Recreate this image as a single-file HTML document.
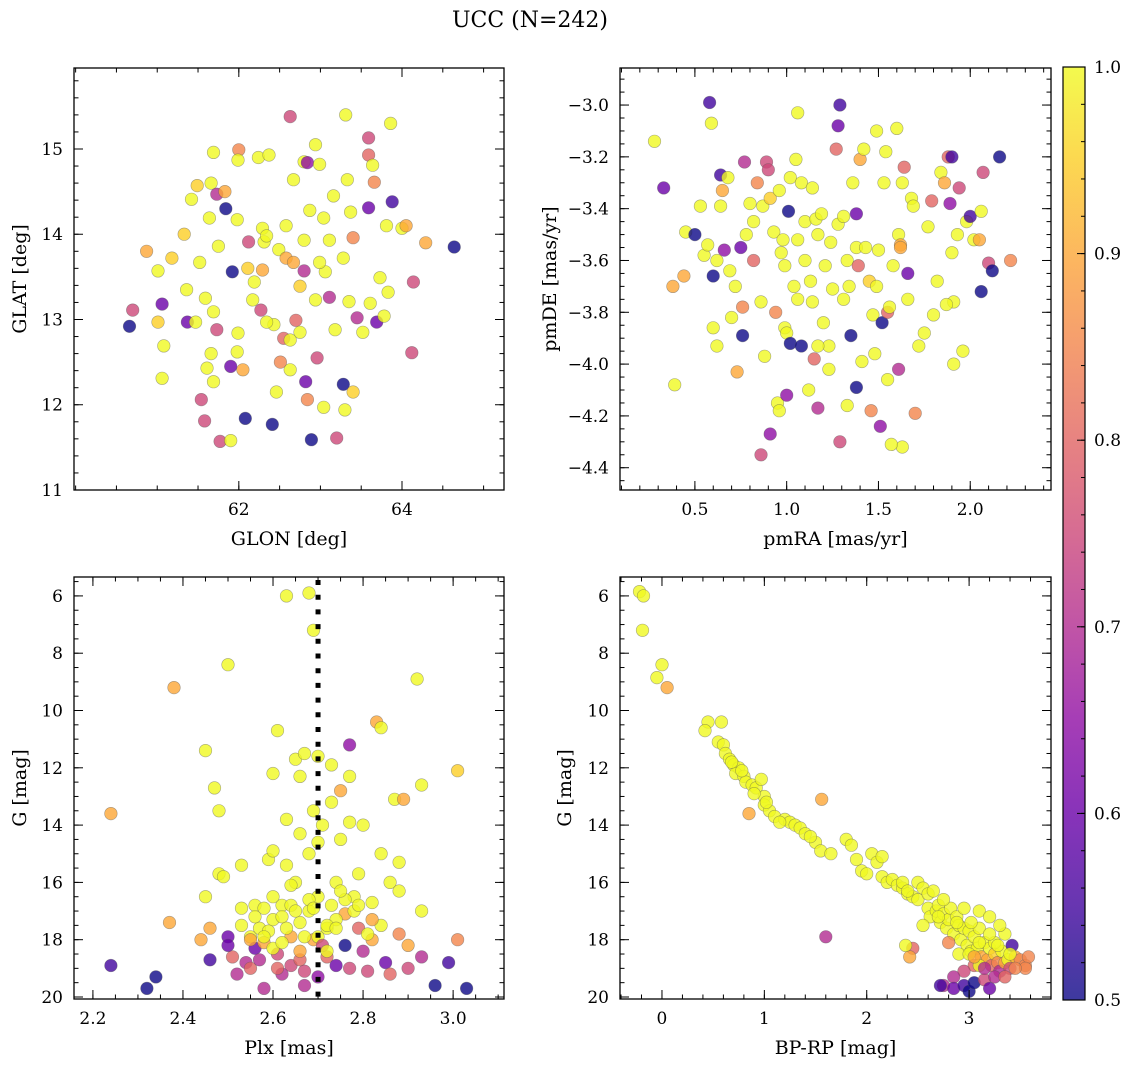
<!DOCTYPE html>
<html><head><meta charset="utf-8">
<style>
html,body{margin:0;padding:0;background:#fff;}
svg{display:block;font-family:"DejaVu Serif","Liberation Serif",serif;}
</style></head>
<body>
<svg id="fig" width="1136" height="1067" viewBox="0 0 1136 1067" xmlns="http://www.w3.org/2000/svg">
<rect x="0" y="0" width="1136" height="1067" fill="#fff"/>
<text x="530" y="27" font-size="22" text-anchor="middle">UCC (N=242)</text>
<defs>
<linearGradient id="cbgrad" x1="0" y1="1" x2="0" y2="0">
<stop offset="0" stop-color="#0d0887"/><stop offset="0.1" stop-color="#41049d"/><stop offset="0.2" stop-color="#6a00a8"/><stop offset="0.3" stop-color="#8f0da4"/><stop offset="0.4" stop-color="#b12a90"/><stop offset="0.5" stop-color="#cc4778"/><stop offset="0.6" stop-color="#e16462"/><stop offset="0.7" stop-color="#f2844b"/><stop offset="0.8" stop-color="#fca636"/><stop offset="0.9" stop-color="#fcce25"/><stop offset="1" stop-color="#f0f921"/>
</linearGradient>
</defs>
<g id="layer"></g>
</svg>
<script>
// ---- Panel 1: GLON vs GLAT ----
const p1_glon=[60.66,60.7,60.87,61.01,61.06,61.01,61.06,61.08,61.18,61.33,61.36,61.37,61.49,61.47,61.54,61.58,61.64,61.59,61.66,61.69,61.66,61.73,61.77,61.9,61.83,61.75,61.98,61.84,61.92,61.99,62,61.99,62.11,62.12,62.05,61.9,62.08,62.41,62.24,62.37,62.29,62.31,62.29,62.43,62.55,62.63,62.67,62.63,62.51,62.46,62.8,62.84,62.94,62.87,62.8,62.75,62.8,62.82,62.84,62.89,62.99,63.04,62.96,63.06,63.11,63.16,63.2,63.11,63.28,63.3,63.31,63.33,63.37,63.35,63.4,63.4,63.45,63.59,63.59,63.64,63.61,63.66,63.69,63.73,63.59,63.81,63.83,63.86,63.88,63.78,64.0,64.05,64.12,64.14,64.29,64.64,62.34,62.49,62.58,62.67,62.19,62.17,62.27,62.34,62.7,62.75,62.63,61.42,61.52,61.69,61.73,61.61,61.69,62.99,63.28,63.04,63.18,63.52,62.94,61.98,62.58];
const p1_glat=[12.92,13.11,13.8,13.57,13.18,12.97,12.31,12.69,13.72,14.0,13.35,12.97,14.57,12.97,12.06,11.81,14.19,13.25,12.6,14.96,14.6,14.47,11.57,11.58,14.5,13.86,12.62,14.3,13.56,12.84,14.99,14.87,13.6,13.91,12.41,12.45,11.84,11.77,14.9,14.93,14.07,13.91,13.58,12.94,12.78,15.38,14.64,12.41,12.5,12.15,14.85,14.84,15.05,14.28,13.93,13.39,13.57,12.27,12.06,11.59,14.82,11.97,12.55,13.56,13.93,14.45,11.61,13.26,12.24,11.94,15.4,14.64,14.26,13.21,12.15,13.96,13.02,15.13,14.93,14.81,13.19,14.61,12.97,13.49,14.31,14.1,13.32,15.3,14.38,13.04,14.07,14.1,12.61,13.44,13.9,13.85,13.98,13.82,13.72,13.67,13.44,13.23,13.11,12.97,12.99,12.85,12.76,14.41,13.67,13.09,12.88,12.43,12.27,13.67,13.72,14.19,12.88,12.85,13.23,14.17,14.1];
const p1_prob=[.5,.75,.9,1,.6,.95,1,1,.95,.95,1,.6,.95,1,.75,.75,1,1,1,1,1,.7,.75,1,.9,1,1,.5,.5,1,.85,1,.95,.75,.9,.6,.5,.5,1,1,1,1,.9,1,.8,.75,1,1,.85,1,1,.65,1,1,1,.95,.7,.6,.85,.5,1,1,.75,1,1,1,.75,.7,.5,1,1,1,1,1,.95,.85,.7,.75,.8,1,1,.85,.6,1,.6,1,1,1,.55,1,1,.9,.75,.75,.9,.5,1,1,.9,.9,1,1,.75,1,.8,1,1,1,1,1,.75,1,1,1,1,1,1,1,1,1,1];
// ---- Panel 2: pmRA vs pmDE ----
const p2_pmra=[0.28,0.33,0.58,0.59,0.39,0.38,0.44,0.45,0.5,0.53,0.55,0.57,0.6,0.6,0.62,0.62,0.64,0.65,0.64,0.66,0.68,0.69,0.7,0.73,0.75,0.76,0.77,0.76,0.78,0.8,0.82,0.82,0.84,0.86,0.88,0.87,0.86,0.91,0.89,0.9,0.91,0.93,0.94,0.95,0.96,0.97,0.98,0.99,0.99,1.01,1.0,1.0,1.02,1.02,1.04,1.05,1.06,1.06,1.08,1.08,1.1,1.1,1.12,1.13,1.14,1.15,1.16,1.17,1.17,1.19,1.2,1.21,1.23,1.23,1.24,1.25,1.27,1.28,1.28,1.29,1.29,1.31,1.31,1.33,1.33,1.34,1.35,1.36,1.38,1.38,1.39,1.38,1.4,1.41,1.42,1.43,1.45,1.46,1.47,1.48,1.49,1.49,1.5,1.51,1.52,1.53,1.54,1.55,1.55,1.56,1.58,1.6,1.61,1.62,1.62,1.63,1.64,1.66,1.66,1.68,1.69,1.7,1.61,1.63,1.57,1.72,1.75,1.77,1.79,1.8,1.82,1.84,1.86,1.88,1.89,1.9,1.9,1.91,1.91,1.93,1.94,1.96,1.98,2.0,2.02,2.05,2.06,2.06,2.07,2.1,2.12,2.16,2.22,1.87,1.17,0.72,0.96,1.06,1.14];
const p2_pmde=[-3.14,-3.32,-2.99,-3.07,-4.08,-3.7,-3.66,-3.49,-3.5,-3.39,-3.58,-3.54,-3.66,-3.86,-3.6,-3.93,-3.27,-3.33,-3.39,-3.56,-3.28,-3.64,-3.82,-4.03,-3.55,-3.78,-3.22,-3.89,-3.5,-3.38,-3.45,-3.6,-3.3,-3.76,-3.97,-3.39,-4.35,-4.27,-3.22,-3.25,-3.36,-3.49,-3.8,-4.15,-4.18,-3.57,-3.52,-3.62,-3.86,-3.41,-3.88,-4.12,-3.92,-3.28,-3.7,-3.21,-3.52,-3.75,-3.3,-3.93,-3.45,-3.6,-4.1,-3.68,-3.76,-3.98,-3.44,-3.5,-4.17,-3.42,-3.84,-3.62,-3.93,-4.02,-3.53,-3.71,-3.17,-3.46,-3.08,-3.0,-4.3,-3.75,-3.43,-4.16,-3.6,-3.7,-3.89,-3.3,-3.42,-3.55,-3.62,-4.09,-3.21,-3.99,-3.17,-3.55,-3.68,-4.18,-3.81,-3.96,-3.7,-3.1,-3.56,-4.24,-3.84,-3.3,-3.18,-3.8,-4.06,-3.78,-3.62,-3.09,-3.5,-3.54,-3.55,-3.3,-3.24,-3.75,-3.65,-3.36,-3.39,-4.19,-4.02,-4.32,-4.31,-3.93,-3.88,-3.47,-3.37,-3.81,-3.68,-3.26,-3.3,-3.2,-3.38,-3.2,-3.57,-3.76,-4.0,-3.5,-3.32,-3.95,-3.45,-3.43,-3.52,-3.52,-3.41,-3.72,-3.26,-3.61,-3.64,-3.2,-3.6,-3.77,-3.93,-3.7,-3.33,-3.03,-3.32];
const p2_prob=[1,.6,.55,1,1,.9,.9,1,.5,1,1,1,.5,1,1,1,.55,.9,1,.65,1,1,1,.9,.6,.85,.7,.5,1,1,1,.8,.85,1,1,1,.75,.65,.75,.75,.95,1,.85,1,1,1,1,1,1,.5,1,.65,.5,1,1,1,1,1,1,.5,1,1,1,1,1,.8,1,1,.7,1,1,1,1,1,1,1,.8,1,.6,.55,.75,1,1,1,1,1,.5,1,.6,1,.8,.5,.9,1,1,1,.95,.85,1,1,1,1,1,.65,.5,1,1,.8,1,1,1,1,1,.9,.9,1,.8,1,.6,1,1,.85,.7,1,1,1,1,1,.8,1,1,1,.9,.8,.65,.55,1,1,1,1,.75,1,1,.55,1,.9,1,.5,.75,.75,.5,.5,.85,1,1,1,1,1,1];
// ---- Panel 3: Plx vs G ----
const p3_plx=[2.24,2.24,2.32,2.34,2.37,2.38,2.44,2.45,2.45,2.46,2.46,2.47,2.48,2.48,2.49,2.5,2.5,2.51,2.52,2.53,2.53,2.54,2.55,2.55,2.56,2.56,2.57,2.58,2.58,2.59,2.6,2.6,2.6,2.61,2.61,2.62,2.62,2.63,2.63,2.64,2.64,2.65,2.65,2.66,2.66,2.66,2.67,2.67,2.68,2.68,2.68,2.69,2.69,2.69,2.7,2.7,2.7,2.71,2.72,2.72,2.73,2.73,2.74,2.74,2.75,2.75,2.76,2.76,2.77,2.77,2.77,2.78,2.79,2.79,2.8,2.8,2.81,2.82,2.82,2.83,2.84,2.84,2.84,2.85,2.86,2.86,2.87,2.88,2.88,2.88,2.89,2.9,2.9,2.92,2.93,2.93,2.93,2.96,2.99,3.01,3.01,3.03,2.58,2.62,2.64,2.66,2.6,2.56,2.73,2.76,2.64,2.7,2.78,2.53,2.5,2.57,2.71,2.66,2.61,2.67,2.59,2.74,2.82,2.72,2.68,2.63,2.7,2.77,2.55,2.6,2.63,2.67,2.69,2.72,2.75,2.79,2.81,2.65,2.62,2.58,2.74];
const p3_g=[13.6,18.9,19.7,19.3,17.4,9.2,18.0,11.4,16.5,17.6,18.7,12.7,13.5,15.7,15.8,8.4,17.9,18.6,19.2,15.4,17.5,18.8,17.9,19.0,18.3,16.8,17.6,19.7,18.1,15.2,12.2,14.9,17.3,10.7,18.5,16.8,19.2,6.0,13.8,17.9,18.9,11.7,16.0,12.3,14.3,18.7,11.5,19.6,5.9,15.0,17.0,7.2,13.5,18.0,11.6,16.5,19.3,14.0,17.6,18.6,13.2,11.9,16.0,18.9,12.8,14.5,17.1,18.2,11.2,12.3,19.0,16.5,17.6,15.7,18.4,14.0,19.1,16.7,18.0,10.4,10.6,15.0,17.5,18.8,16.0,19.2,13.1,15.3,16.3,17.8,13.1,18.2,19.0,8.9,12.6,17.0,18.6,19.6,18.8,12.1,18.0,19.7,16.9,17.2,16.8,17.4,18.3,17.2,16.8,16.6,16.1,17.9,17.0,16.9,18.2,18.7,18.2,18.4,19.0,19.1,17.7,17.3,17.3,18.4,16.6,15.4,14.6,13.9,18.0,16.5,17.6,17.9,16.9,17.5,16.3,16.8,17.8,17.0,18.1,17.9,17.6];
const p3_prob=[.9,.55,.5,.5,.9,.9,.9,1,1,.9,.55,1,1,1,1,1,.6,.8,.7,1,1,.7,1,.8,.6,1,1,.7,.9,1,1,1,1,1,.75,1,.7,1,1,.9,.75,1,1,1,1,.8,1,.7,1,1,1,1,1,.9,1,1,.65,1,1,.8,1,1,1,.6,.9,1,.9,.5,.65,1,.75,1,.8,1,.7,1,.75,1,.9,.9,1,1,1,.6,1,.8,1,1,1,.85,.9,.9,.75,1,1,1,.7,.5,.55,.95,.85,.5,1,1,1,1,1,1,1,1,1,1,1,1,.6,.7,.75,.9,.8,.75,1,1,.9,1,1,1,1,1,.9,1,1,1,1,1,1,1,1,1,1,1,1];
// ---- Panel 4: BP-RP vs G ----
const p4_bprp=[-0.22,-0.18,-0.19,-0.05,0.0,0.05,0.45,0.42,0.58,0.55,0.6,0.62,0.66,0.7,0.75,0.72,0.8,0.82,0.88,0.92,0.97,0.85,1.0,1.0,1.05,1.1,1.2,1.25,1.3,1.35,1.4,1.5,1.55,1.56,1.65,1.6,1.8,1.85,1.9,1.95,2.0,2.05,2.1,2.15,2.15,2.2,2.25,2.3,2.35,2.4,2.45,2.5,2.5,2.55,2.6,2.6,2.62,2.65,2.68,2.7,2.72,2.75,2.78,2.8,2.82,2.85,2.88,2.9,2.92,2.95,2.95,2.98,3.0,3.02,3.05,3.08,3.1,3.12,3.15,3.18,3.2,3.22,3.25,3.28,3.3,3.32,3.35,3.38,3.4,3.42,3.45,3.5,3.55,3.58,3.55,3.1,3.05,2.95,2.85,2.75,2.72,2.85,2.95,3.0,3.05,3.15,3.2,3.25,2.45,2.42,2.38,3.35,3.3,3.2,2.9,3.0,3.1,3.25,3.4,3.35,3.45,3.15,2.8,2.55,0.68,0.78,0.9,1.02,1.15,1.45,2.35,2.4,2.7,2.75,2.88,3.02,3.1,3.2,3.28,3.05];
const p4_g=[5.85,6.0,7.2,8.85,8.4,9.2,10.4,10.7,10.4,11.1,11.2,11.5,11.7,11.9,12.0,12.2,12.3,12.5,12.6,12.7,12.4,13.6,13.0,13.3,13.5,13.7,13.8,13.9,14.0,14.1,14.3,14.6,14.9,13.1,15.0,17.9,14.5,14.7,15.2,15.6,15.7,15.0,15.3,15.8,15.1,16.0,15.9,16.1,16.2,16.4,16.5,16.6,16.0,16.2,16.4,16.9,17.2,16.3,17.0,16.8,17.4,17.1,17.6,17.3,16.9,17.8,17.2,17.5,18.0,17.6,16.9,18.2,17.7,18.4,17.9,18.3,17.6,18.6,18.1,18.7,18.3,18.9,18.5,18.8,19.1,18.4,18.8,18.7,19.0,18.2,18.6,18.7,18.9,18.6,19.0,17.0,18.9,19.1,19.3,19.6,19.6,19.7,19.6,19.8,19.5,19.4,19.7,19.3,18.3,18.6,18.2,17.8,17.5,17.2,18.5,18.5,18.9,18.1,18.5,19.3,19.0,19.0,18.1,17.5,11.8,12.1,12.9,13.2,13.9,14.4,16.0,16.3,17.2,16.6,17.4,17.4,18.1,17.8,18.2,18.6];
const p4_prob=[1,1,1,1,1,.9,1,1,1,1,1,1,1,1,1,1,1,1,1,1,1,.9,1,1,1,1,1,1,1,1,1,1,1,.9,1,.7,1,1,1,1,1,1,1,1,1,1,1,1,1,1,1,1,1,1,1,1,1,1,1,1,1,1,1,1,1,1,1,1,1,1,1,1,1,1,1,1,1,.9,1,.9,1,.8,.95,.85,.7,1,.9,1,.75,.55,.9,.85,.85,.85,.85,1,.8,.75,.7,.7,.55,.6,.55,.5,.5,.75,.6,.7,.8,.9,1,1,1,1,1,1,1,1,1,.8,.85,.7,.85,1,1,1,1,1,1,1,1,1,1,1,1,1,1,1,1,.9];
// Tick labels
const p1_xticks=[62,64], p1_yticks=[11,12,13,14,15];
const p2_xticks=[0.5,1.0,1.5,2.0], p2_yticks=[-3.0,-3.2,-3.4,-3.6,-3.8,-4.0,-4.2,-4.4];
const p3_xticks=[2.2,2.4,2.6,2.8,3.0], g_yticks=[6,8,10,12,14,16,18,20];
const p4_xticks=[0,1,2,3];
const cb_ticks=[0.5,0.6,0.7,0.8,0.9,1.0];
const plx_ref=[2.7];

const NS='http://www.w3.org/2000/svg';
const layer=document.getElementById('layer');
function el(tag,attrs,parent){const e=document.createElementNS(NS,tag);for(const k in attrs)e.setAttribute(k,attrs[k]);(parent||layer).appendChild(e);return e;}
const PL=[[13,8,135],[65,4,157],[106,0,168],[143,13,164],[177,42,144],[204,71,120],[225,100,98],[242,132,75],[252,166,54],[252,206,37],[240,249,33]];
function plasma(t){t=Math.max(0,Math.min(1,t))*10;const i=Math.min(9,Math.floor(t)),f=t-i;const a=PL[i],b=PL[i+1];return 'rgb('+[0,1,2].map(k=>Math.round(a[k]+(b[k]-a[k])*f)).join(',')+')';}
function fmt(v,d){const s=v.toFixed(d);return s.replace('-','\u2212');}
const TF=17, LF=19;

function panel(c,xs,ys,ps){
  const g=el('g',{});
  
  
  const W=c.r-c.l,H=c.b-c.t;
  const sx=v=>c.l+(v-c.x0)/(c.x1-c.x0)*W;
  const sy=v=>c.t+(v-c.yt)/(c.yb-c.yt)*H;
  const pts=el('g',{},g);
  
  
  for(let i=0;i<xs.length;i++){
    const t=(ps[i]-0.5)/0.5;
    const ci=el('circle',{cx:sx(xs[i]).toFixed(1),cy:sy(ys[i]).toFixed(1),r:6.3,fill:plasma(t),'fill-opacity':0.8,stroke:'#555','stroke-opacity':0.5,'stroke-width':0.6},pts);
    
    
  }
  if(c.vline){for(const v of c.vline){const ln=el('line',{x1:sx(v),x2:sx(v),y1:c.t+3,y2:c.b,stroke:'#000','stroke-width':5,'stroke-dasharray':'5 9.7'},g);
    
    }}
  const fr=el('rect',{x:c.l,y:c.t,width:W,height:H,fill:'none',stroke:'#000','stroke-width':1.3},g);
  
  
  const tk=el('g',{stroke:'#000','stroke-width':1},g);
  
  
  function xt(v,len){const x=sx(v);el('line',{x1:x,x2:x,y1:c.b,y2:c.b-len},tk);el('line',{x1:x,x2:x,y1:c.t,y2:c.t+len},tk);}
  function yt(v,len){const y=sy(v);el('line',{x1:c.l,x2:c.l+len,y1:y,y2:y},tk);el('line',{x1:c.r,x2:c.r-len,y1:y,y2:y},tk);}
  const xlo=Math.min(c.x0,c.x1),xhi=Math.max(c.x0,c.x1),ylo=Math.min(c.yt,c.yb),yhi=Math.max(c.yt,c.yb);
  for(let v=Math.ceil(xlo/c.xm-1e-6)*c.xm;v<=xhi;v+=c.xm)xt(v,4.5);
  for(let v=Math.ceil(ylo/c.ym-1e-6)*c.ym;v<=yhi;v+=c.ym)yt(v,4.5);
  for(const v of c.xt){xt(v,9);const t=el('text',{x:sx(v),y:c.b+25,'font-size':TF,'text-anchor':'middle'},g);t.textContent=fmt(v,c.xd);
    
    }
  for(const v of c.yt_){yt(v,9);const t=el('text',{x:c.l-11,y:sy(v)+6,'font-size':TF,'text-anchor':'end'},g);t.textContent=fmt(v,c.yd);
    
    }
  const xl=el('text',{x:(c.l+c.r)/2,y:c.b+55,'font-size':LF,'text-anchor':'middle'},g);xl.textContent=c.xlab;
  
  
  const yx=c.ylx,yy=(c.t+c.b)/2;
  const yl=el('text',{x:yx,y:yy,'font-size':LF,'text-anchor':'middle',transform:'rotate(-90 '+yx+' '+yy+')'},g);yl.textContent=c.ylab;
  
  
}

panel({name:'glon-glat-panel',l:74,r:504,t:68,b:490,x0:59.98,x1:65.25,yt:15.95,yb:11.0,xm:0.5,ym:0.2,xt:p1_xticks,yt_:p1_yticks,xd:0,yd:0,xlab:'GLON [deg]',ylab:'GLAT [deg]',ylx:26},p1_glon,p1_glat,p1_prob);
panel({name:'pmra-pmde-panel',l:620,r:1051,t:68,b:490,x0:0.092,x1:2.44,yt:-2.857,yb:-4.486,xm:0.1,ym:0.05,xt:p2_xticks,yt_:p2_yticks,xd:1,yd:1,xlab:'pmRA [mas/yr]',ylab:'pmDE [mas/yr]',ylx:556},p2_pmra,p2_pmde,p2_prob);
panel({name:'plx-g-panel',l:74,r:504,t:577,b:999,x0:2.158,x1:3.113,yt:5.34,yb:20.07,xm:0.05,ym:0.5,xt:p3_xticks,yt_:g_yticks,xd:1,yd:0,xlab:'Plx [mas]',ylab:'G [mag]',ylx:26,vline:plx_ref},p3_plx,p3_g,p3_prob);
panel({name:'cmd-panel',l:620,r:1051,t:577,b:999,x0:-0.41,x1:3.8,yt:5.34,yb:20.07,xm:0.2,ym:0.5,xt:p4_xticks,yt_:g_yticks,xd:0,yd:0,xlab:'BP-RP [mag]',ylab:'G [mag]',ylx:571},p4_bprp,p4_g,p4_prob);

// colorbar
(function(){
  const g=el('g',{});
  
  
  const L=1063,R=1085,T=67,B=1000;
  const r=el('rect',{x:L,y:T,width:R-L,height:B-T,fill:'url(#cbgrad)','fill-opacity':0.8},g);
  
  
  el('rect',{x:L,y:T,width:R-L,height:B-T,fill:'none',stroke:'#000','stroke-width':1.2},g);
  const sy=v=>B-(v-0.5)/0.5*(B-T);
  for(let i=0;i<=25;i++){const v=0.5+i*0.02;const y=sy(v);el('line',{x1:R,x2:R-4,y1:y,y2:y,stroke:'#000','stroke-width':1},g);}
  for(const v of cb_ticks){const y=sy(v);el('line',{x1:R,x2:R-8,y1:y,y2:y,stroke:'#000','stroke-width':1},g);
    const t=el('text',{x:1094,y:y+6,'font-size':TF},g);t.textContent=v.toFixed(1);
    
    }
})();
</script>
</body></html>
